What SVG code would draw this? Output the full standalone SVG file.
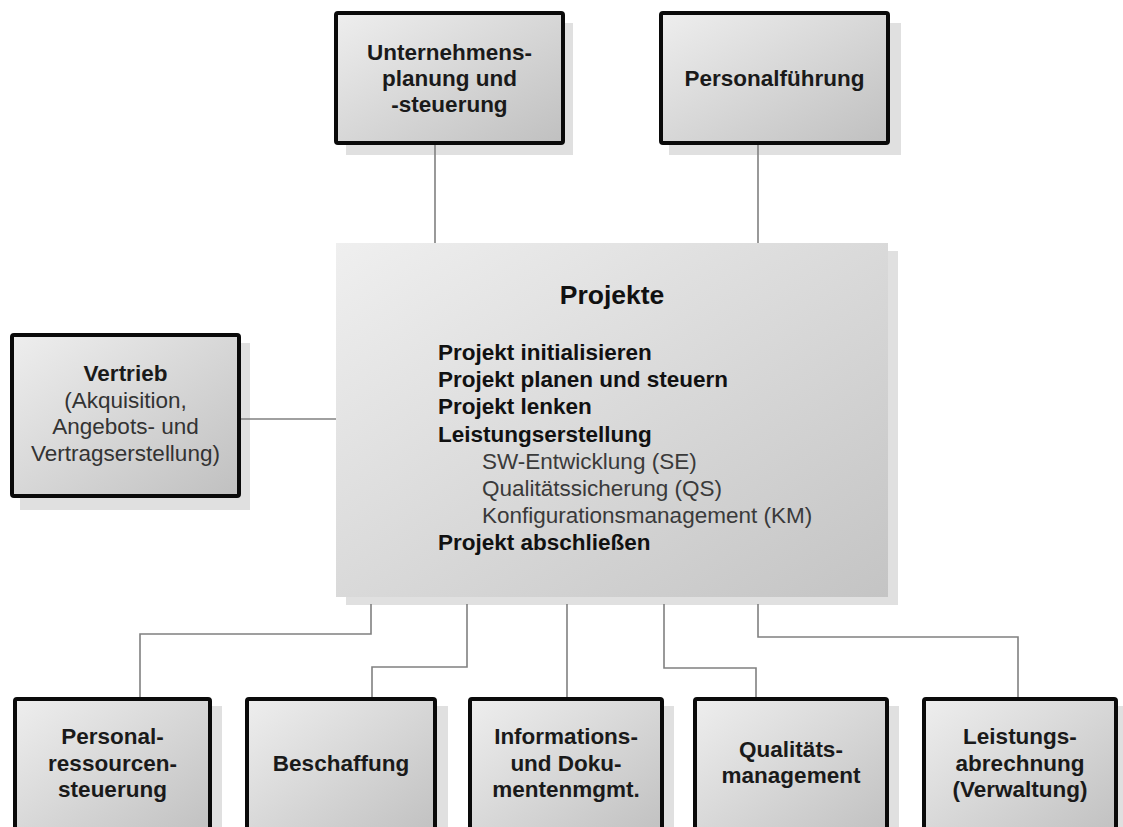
<svg xmlns="http://www.w3.org/2000/svg" width="1123" height="827" viewBox="0 0 1123 827">
<defs>
<linearGradient id="g" x1="0" y1="0" x2="1" y2="1">
<stop offset="0" stop-color="#eeeeee"/>
<stop offset="1" stop-color="#c0c0c0"/>
</linearGradient>
<linearGradient id="gc" x1="0" y1="0" x2="1" y2="1">
<stop offset="0" stop-color="#efefef"/>
<stop offset="1" stop-color="#c4c4c4"/>
</linearGradient>
</defs>
<style>
.sh{fill:#e0e0e0}
.box{fill:url(#g);stroke:#0a0a0a;stroke-width:4}
.t{font-family:"Liberation Sans",Arial,sans-serif;font-size:22.5px;font-weight:bold;fill:#1a1a1a;text-anchor:middle}
.r{font-weight:normal;fill:#333333}
.b{font-family:"Liberation Sans",Arial,sans-serif;font-size:22.5px;font-weight:bold;fill:#111111}
.s{font-family:"Liberation Sans",Arial,sans-serif;font-size:22.5px;fill:#3a3a3a}
.c{fill:none;stroke:#808080;stroke-width:1.6}
</style>
<rect width="1123" height="827" fill="#ffffff"/>

<g id="node-unternehmensplanung">
<rect class="sh" x="346" y="23" width="227" height="132"/>
<rect class="box" x="336" y="13" width="227" height="130" rx="2"/>
<text class="t" x="449.5" y="60">Unternehmens-</text>
<text class="t" x="449.5" y="86">planung und</text>
<text class="t" x="449.5" y="112">-steuerung</text>
</g>

<g id="node-personalfuehrung">
<rect class="sh" x="669" y="23" width="232" height="132"/>
<rect class="box" x="661" y="13" width="227" height="130" rx="2"/>
<text class="t" x="774.5" y="86">Personalführung</text>
</g>

<g id="node-vertrieb">
<rect class="sh" x="20" y="343" width="230" height="167"/>
<rect class="box" x="12" y="335" width="227" height="161" rx="2"/>
<text class="t" x="125.5" y="381">Vertrieb</text>
<text class="t r" x="125.5" y="407.5">(Akquisition,</text>
<text class="t r" x="125.5" y="434">Angebots- und</text>
<text class="t r" x="125.5" y="460.5">Vertragserstellung)</text>
</g>

<g id="node-projekte">
<rect class="sh" x="346" y="251" width="552" height="354"/>
<rect x="336" y="243" width="552" height="354" fill="url(#gc)"/>
<text class="t" x="612" y="304" style="font-size:26.5px;fill:#111111">Projekte</text>
<text class="b" x="438" y="360">Projekt initialisieren</text>
<text class="b" x="438" y="387">Projekt planen und steuern</text>
<text class="b" x="438" y="414">Projekt lenken</text>
<text class="b" x="438" y="441.5">Leistungserstellung</text>
<text class="s" x="482" y="468.5">SW-Entwicklung (SE)</text>
<text class="s" x="482" y="495.5">Qualitätssicherung (QS)</text>
<text class="s" x="482" y="522.5">Konfigurationsmanagement (KM)</text>
<text class="b" x="438" y="550">Projekt abschließen</text>
</g>

<g id="node-personalressourcen">
<rect class="sh" x="23" y="706" width="199" height="140"/>
<rect class="box" x="15" y="699" width="195" height="140" rx="2"/>
<text class="t" x="112.5" y="744">Personal-</text>
<text class="t" x="112.5" y="770.5">ressourcen-</text>
<text class="t" x="112.5" y="797">steuerung</text>
</g>

<g id="node-beschaffung">
<rect class="sh" x="255" y="706" width="193" height="140"/>
<rect class="box" x="247" y="699" width="188" height="140" rx="2"/>
<text class="t" x="341" y="770.5">Beschaffung</text>
</g>

<g id="node-informationsmgmt">
<rect class="sh" x="478" y="706" width="196" height="140"/>
<rect class="box" x="470" y="699" width="192" height="140" rx="2"/>
<text class="t" x="566" y="744">Informations-</text>
<text class="t" x="566" y="770.5">und Doku-</text>
<text class="t" x="566" y="797">mentenmgmt.</text>
</g>

<g id="node-qualitaetsmanagement">
<rect class="sh" x="703" y="706" width="196" height="140"/>
<rect class="box" x="695" y="699" width="192" height="140" rx="2"/>
<text class="t" x="791" y="757">Qualitäts-</text>
<text class="t" x="791" y="783">management</text>
</g>

<g id="node-leistungsabrechnung">
<rect class="sh" x="932" y="706" width="191" height="140"/>
<rect class="box" x="924" y="699" width="192" height="140" rx="2"/>
<text class="t" x="1020" y="744">Leistungs-</text>
<text class="t" x="1020" y="770.5">abrechnung</text>
<text class="t" x="1020" y="797">(Verwaltung)</text>
</g>

<g id="connectors">
<path class="c" d="M435 145 V243"/>
<path class="c" d="M758 145 V243"/>
<path class="c" d="M241 419 H336"/>
<path class="c" d="M371 604 V634 H140 V697"/>
<path class="c" d="M467 604 V667 H372 V697"/>
<path class="c" d="M567 604 V697"/>
<path class="c" d="M664 604 V668 H756 V697"/>
<path class="c" d="M758 604 V637 H1018 V697"/>
</g>
</svg>
